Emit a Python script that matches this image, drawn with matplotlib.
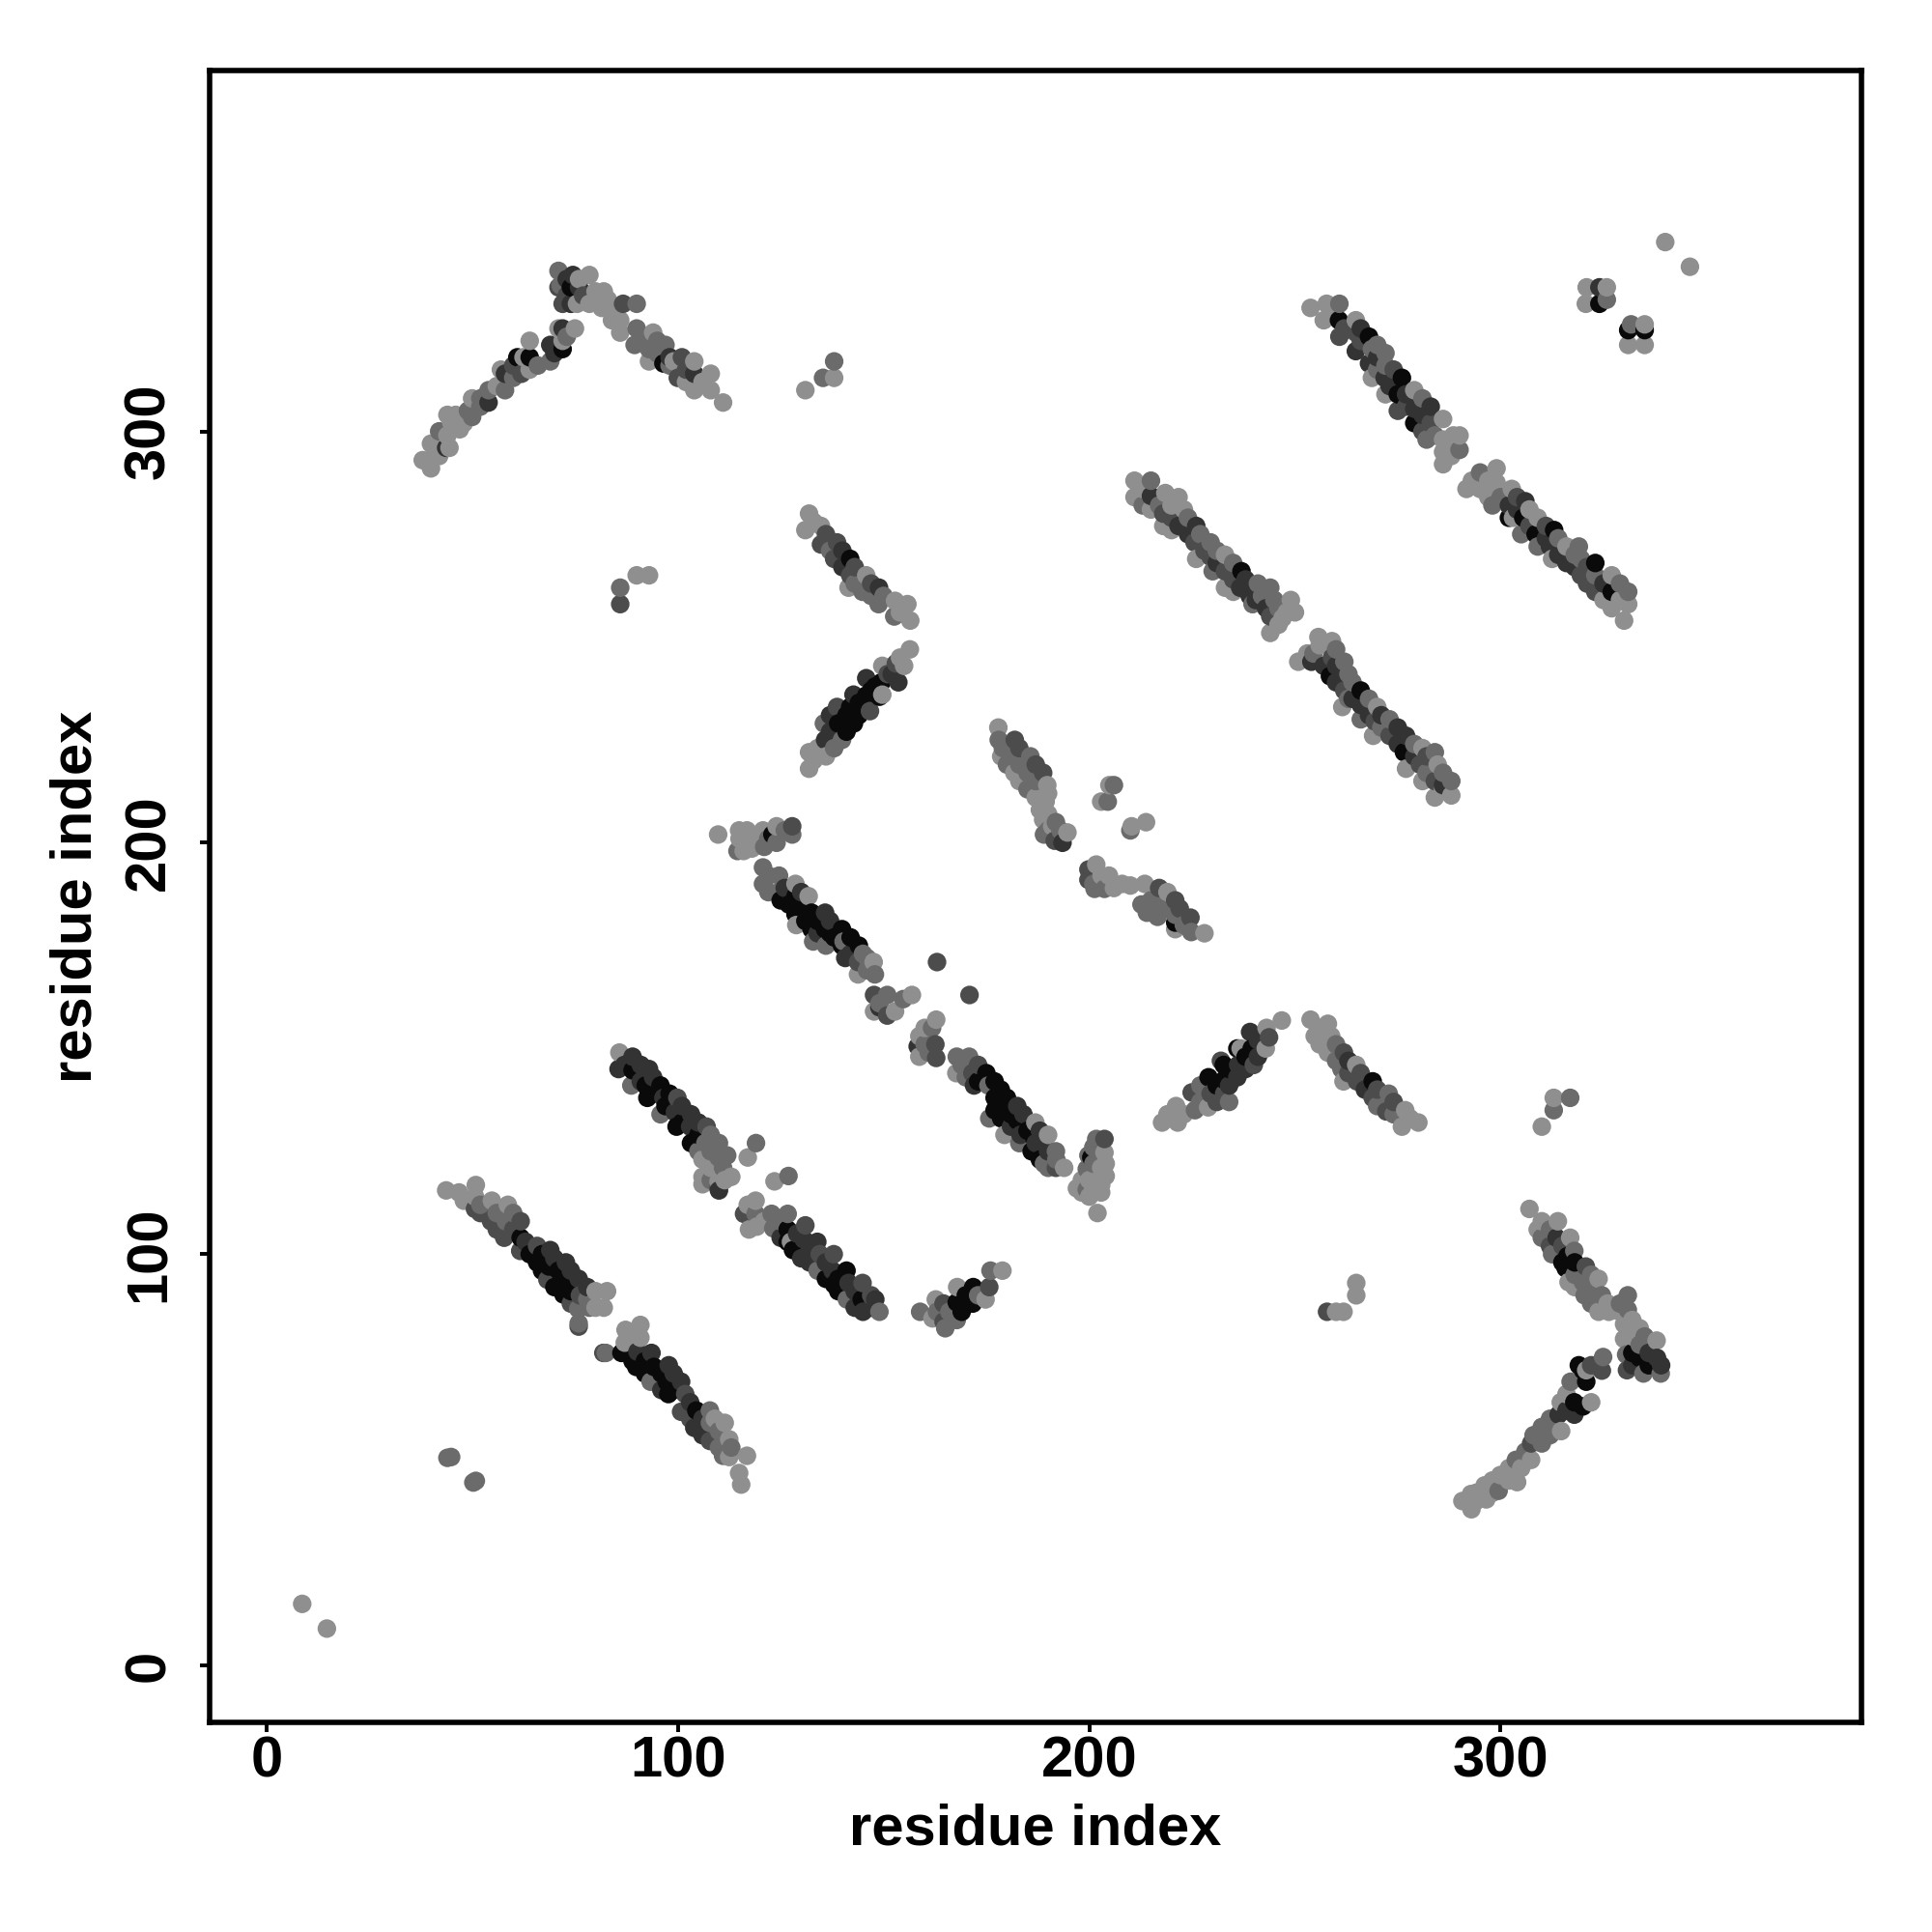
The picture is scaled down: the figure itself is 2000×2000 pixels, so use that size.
import matplotlib
matplotlib.use("Agg")
import matplotlib.pyplot as plt
import numpy as np

# shades
K, D, S, M, L = 0.04, 0.2, 0.3, 0.42, 0.56

# (residue i, residue j, shade), one list per streak of contacts
top_left_arm = [
    (38, 293, L), (40, 291, L), (40, 297, L), (42, 294, L), (42, 300, M), (43.7, 296, D), (44.5, 296, L),
    (44, 304, L), (47, 300.5, L), (46, 304, L), (50, 303.5, M), (50, 308, L), (54, 307, D), (54, 310, M),
    (58, 310, M), (57, 315, L), (58, 314, D), (61, 318, K), (62, 314, S), (64, 318, K), (64, 315, L),
    (62.5, 318, L), (64, 322, L), (69, 321, D), (69, 317, M), (72, 320, K), (72, 322, L), (72, 325, D),
    (71, 325, L), (75, 325, L),
]
top_left_peak = [
    (71, 339, M), (71, 335, S), (71.5, 335.5, M), (72, 331, S), (74.5, 338, D), (74, 335, K), (74, 331, D),
    (78.5, 338, L), (75.5, 331, L), (78.5, 331, L), (80, 334, L), (82, 334, L), (81.5, 330, L), (84, 330, L),
    (86.7, 331, S), (90, 331, M), (86, 327, L), (86, 324, L),
]
top_left_tail = [
    (90, 325, M), (89.5, 321, M), (94, 324, L), (93, 320, M), (97, 321, M), (93, 317, L), (96.5, 316.5, K),
    (101, 318, S), (99, 317, L), (104, 317, L), (100, 313, S), (104, 314, D), (108, 314, L), (104, 310, L),
    (108, 310, L), (111, 307, L),
]
small_top = [
    (86, 262, M), (86, 258, S), (90, 265, L), (93, 265, L), (131, 310, L), (135.3, 313, M), (138, 313, L),
    (138, 317, M),
]
upper_right_a = [
    (253.8, 330, L), (257.7, 331, L), (260.8, 331, M), (257, 327, L), (260.7, 327, K), (264.8, 327, L),
    (260.8, 323, S), (264.8, 324, S), (268, 323, K), (264.8, 319.5, D), (268.7, 320, M), (272, 319, M),
    (268, 316.5, D), (268.7, 313, L), (272, 316, M), (271.8, 313, D), (276, 313, K), (272, 309, L),
    (275, 309, K), (275, 305, S), (279, 310, L), (279, 305.5, D), (279, 302, K), (283, 306, D), (286, 303, L),
    (283, 302, S), (282, 298, M), (286, 298, L), (290, 299, L), (288.5, 299, L), (290, 295.5, M),
    (286, 295, L), (286, 292, L),
]
upper_right_b = [
    (291.7, 286, L), (295, 290, M), (295, 286, L), (299, 291, L), (299, 287.5, L), (298, 282, M),
    (302.7, 286, L), (302, 282, D), (306, 283, D), (302, 279, K), (303, 279, L), (305.5, 279, K), (305, 275, M),
    (309, 279, L), (308.5, 275, K), (313, 276, K), (309, 272, M), (312, 272, D), (312.5, 269, L), (316, 272, L),
    (316, 268, D), (319, 272, M), (319.5, 269, M), (319.5, 265, S), (323, 268, K), (323, 265, M),
    (323, 261, S), (327, 265, L), (327, 261, K), (331, 261, M), (327, 257, L), (331, 258, L), (330, 254, L),
]
corner_top_right = [
    (320.9, 335, L), (324, 335, D), (325.8, 335, L), (320.7, 331, L), (324, 331, K), (325.8, 332, M),
    (331, 324.6, K), (331.7, 326, M), (335, 324.6, K), (335, 326, L), (331, 321, L), (335, 321, L),
    (340, 346, L), (346, 340, L),
]
middle_upper_a = [
    (211, 288, L), (215, 288, M), (211, 284, L), (215, 284.3, D), (215, 281, L), (218.5, 285, L), (221.7, 284, L),
    (218, 280, S), (218, 277, L), (221.7, 277, D), (223, 281, L), (226, 277, D), (225.6, 273, S), (229.5, 273, M),
    (226, 269, L), (229.5, 269.5, S), (230, 266, M), (233, 270, L), (233, 266, S), (233, 262, L), (237, 266, K),
    (236.7, 262, D), (241, 263, M), (244, 262, M), (240.5, 259, D), (239.7, 258, M), (245, 259, M),
    (249, 259, L), (244, 255, S), (247, 254.6, L), (250, 256, L), (244, 251, L),
]
middle_upper_b = [
    (250.8, 244, L), (255.7, 250, L), (259, 249, L), (254.5, 246, M), (254, 244, D), (259, 245, S), (262, 244, M),
    (258.5, 240.5, K), (263, 241, M), (262, 237, S), (266, 237, K), (261.5, 233, L), (266, 233.5, D),
    (270, 233, L), (266, 230, M), (269.4, 229.5, S), (273, 230, M), (269, 226, L), (273, 226, S),
    (277, 226, D), (276.5, 222, K), (277, 218, L), (281, 223, L), (280.4, 219, S), (284, 222, M),
    (284.7, 219, L), (281, 215, L), (284, 215, S), (288, 215, M), (284, 211, L), (288, 211.5, L),
]
chevron_up = [
    (131.9, 280, L), (131, 276, L), (134.8, 277, L), (134.8, 272.5, S), (138.7, 273, S), (138, 269, S),
    (141.9, 269, K), (141.9, 265, S), (145.8, 265, L), (141.5, 262, L), (144.9, 261, M), (148.9, 262, D),
    (148.8, 258, M), (152.8, 258.8, L), (155.8, 258, L), (152.6, 255, M), (156.5, 254, L),
]
chevron_down = [
    (156.4, 247, L), (155, 243, L), (153, 243.6, S), (149.7, 243, L), (153.6, 239, D), (149.5, 239, K),
    (145.8, 240, D), (149.7, 236, L), (149, 235.5, K), (145.8, 235.8, K), (142.7, 236, D), (146.7, 232, S),
    (138.7, 233, S), (141.9, 233, K), (142.8, 229, K), (139, 229, K), (135.5, 229, M), (139.9, 225, M),
    (135.8, 225, D), (136, 221, L), (131.9, 222, L), (131.9, 218, L),
]
centre_upper = [
    (177.9, 228, L), (178, 225, M), (181.9, 225, S), (178.6, 221, L), (181.8, 221, M), (185.7, 221, M),
    (181.8, 217, L), (185, 217, M), (188.8, 217, S), (185, 213, M), (189.8, 214, L), (189.4, 210, L),
    (188.8, 205.6, L), (191.9, 205, M), (189, 202, M), (191.6, 200.5, S), (193.5, 200, D), (194.7, 202.5, L),
    (204.9, 214, L), (206, 214, M), (202.9, 210, L), (204.5, 210, M), (210.3, 204, L), (210, 203, M),
    (213.8, 205, L),
]
centre_left = [
    (109.8, 202, L), (114.9, 203, L), (116.8, 203, L), (114.5, 198, M), (116, 198, L), (118, 198.6, L),
    (120.7, 203, L), (119, 200.6, L), (124, 204, L), (123, 202, K), (124, 200, M), (127.8, 204, S), (127.8, 202, M),
]
centre_right = [
    (199.8, 193.5, S), (201.7, 194.7, L), (199.8, 191, S), (201.3, 188.8, M), (204.8, 192, L), (206, 189, L),
    (203.7, 188.8, M), (210, 189.6, L), (213.5, 190, L), (212.7, 185, M), (217, 189, S), (217, 186, M),
    (216.6, 182, M), (220.9, 186, S), (220.9, 182.5, M), (220.9, 180.6, K), (220.9, 179, L), (224.6, 181.8, S),
    (224.8, 178.3, M), (228, 178, L),
]
centre_long_a = [
    (120.7, 194, M), (120.7, 190, M), (124.6, 192, M), (125, 186, K), (124.5, 188, M), (128.6, 190, L),
    (128.6, 187, K), (131.8, 187, L), (128.6, 182.6, K), (132.5, 183, K), (135.8, 183, D), (128.8, 180, L),
    (132.5, 179, K), (135.8, 179, K), (132.9, 176, M), (139.9, 179, K), (140.3, 176, M), (139.9, 175, K),
    (144, 175, K), (140.7, 172, D), (143.8, 171, S), (147.6, 171, L), (143.8, 168, L), (147.9, 168, M),
    (147.7, 163, S), (150.9, 163, M), (147.7, 159, L), (150.9, 158, S), (152.8, 159, L), (154.8, 162, M),
    (156.9, 163, L), (163, 171, S), (170.9, 163, S),
]
centre_long_b = [
    (162.8, 157, L), (161.8, 155, M), (158.7, 153, L), (158.3, 150.5, D), (162.6, 151, S), (158.7, 148, L),
    (162.8, 147.7, S), (167.8, 148, M), (170.8, 148, M), (167.7, 144, L), (171.6, 144, S), (175, 144, K),
    (172, 141, D), (175.5, 141, M), (178.5, 140, K), (178.6, 136, K), (182.5, 136, D), (175.7, 133, M),
    (178.6, 133, K), (182.5, 132.5, K), (179.4, 129, L), (183.3, 129, D), (186.9, 132, L), (186.5, 128.6, K),
    (190, 129, L), (186, 125, K), (190, 125, D), (191.9, 125, M), (190, 121, M), (191.9, 121, S), (193.9, 121, L),
]
centre_stack = [
    (203.7, 128, S), (201.7, 128, M), (203.7, 124.7, L), (199.8, 124, M), (200.5, 123.5, K), (202.9, 121, L),
    (199.4, 120.7, M), (198.2, 118, L), (202.9, 116.8, L), (199.4, 115.7, M), (198.2, 115, L), (202.9, 115, L),
    (200, 114, L), (202, 110, L),
]
low_right_up = [
    (217.7, 132, L), (221.5, 132, L), (221.1, 136, L), (225.7, 135, M), (224.9, 139.3, S), (229.5, 139, S),
    (228.9, 135.7, L), (232.8, 139, S), (229, 143, K), (232.8, 142.4, K), (236, 143, D), (232, 147, S),
    (232.7, 146, K), (236.2, 146, D), (240, 146, S), (236, 150, K), (236.8, 150, L), (239.5, 150, K),
    (242.9, 150, L), (239.1, 154, D), (243.7, 152.7, S), (243.1, 155, L), (246.8, 156.8, L),
]
low_right_down = [
    (253.8, 157, L), (258, 156, L), (254.8, 153, L), (258.8, 153, L), (258, 149, L), (261.9, 149, S),
    (261.3, 145, M), (264.9, 146, L), (261.8, 142, L), (265.1, 142, S), (268.9, 142, K), (268.9, 138, S),
    (272.8, 139, M), (272.2, 134.7, S), (276.8, 135, L), (276, 131, L), (280, 132, L),
]
small_middle = [
    (312.9, 138, L), (316.9, 138, M), (312.9, 135, M), (310, 131, L), (264.9, 93, L), (264.9, 90, L),
    (257.8, 86, S), (261.8, 86, L), (260, 86, L),
]
right_stem = [
    (307, 111, L), (310, 108, L), (313.9, 108, L), (310, 104, M), (313.6, 104, D), (316.9, 104, L),
    (312.5, 100, M), (317.9, 100.8, M), (316.2, 99.5, K), (315.8, 96.6, K), (320.7, 97, S), (316.5, 93.2, L),
    (320, 93.2, M), (323.8, 94, L), (320.4, 90, M), (324.6, 90, M), (323.8, 86, L), (326.3, 86, L),
    (330.9, 90, M), (330.9, 86.5, M), (330, 83, L), (333.8, 82, L), (330, 79.4, L), (333.8, 78, M),
    (337.9, 79, L), (330.5, 75.6, M), (333.8, 74.8, K), (338, 74.8, D), (330.7, 71.8, S), (334.7, 71, M),
    (338.9, 71, M),
]
right_arm = [
    (324.9, 75, M), (324.6, 71.7, S), (320.8, 71.8, L), (320, 71.8, K), (317, 69, M), (320.8, 69, K),
    (322, 64, L), (317.9, 64, K), (314.6, 64, L), (317.9, 61, D), (314.1, 61, D), (314.7, 57, L), (310, 58, M),
    (310, 54, M), (307.4, 54, S), (307.4, 50, L), (303.7, 50, M), (304, 44.6, L), (299.9, 46.3, L),
    (299.5, 42.5, M), (296.1, 43.8, L), (296.5, 40.4, L), (292.8, 41.7, L), (290.7, 40, L), (292.9, 38, L),
]
lower_long_a = [
    (85.8, 149, L), (89, 148, D), (85.6, 145, D), (89, 144.7, K), (93, 145, D), (88.7, 141, M), (92.2, 141, K),
    (95.8, 141, K), (92.6, 138, K), (96.5, 138, D), (99.9, 138, S), (95.8, 134, M), (99.3, 134.5, D),
    (103.2, 134, D), (99.7, 131, K), (103, 131, D), (107, 131, S), (103.2, 127, K), (106.7, 127, M),
    (110, 127, M), (106, 123, L), (109.9, 123.5, M), (106, 118.8, L), (106, 117, L), (109.9, 116, S),
    (109.9, 117.7, L), (111.4, 118, L), (113, 118.8, L), (119, 127, M), (117, 123.5, L), (126.9, 119, M),
    (123.5, 117.7, L),
]
lower_long_b = [
    (118.9, 113, L), (116.1, 109.8, S), (118.9, 109.8, M), (117.3, 106, L), (119.2, 106.7, L), (122.8, 109.8, M),
    (123.2, 106.3, M), (126.7, 109.8, M), (126.7, 106, K), (131, 107, S), (126.7, 103, K), (127.5, 103, L),
    (130.6, 103.6, D), (133.9, 103, D), (130, 99, D), (134.5, 100, S), (137.9, 100, S), (134, 96, M),
    (137.6, 96, D), (141, 96, K), (138, 92.6, K), (141.5, 93, D), (144.9, 93, S), (141.1, 89, M), (144.7, 89, K),
    (148, 89, D), (145, 86, D), (149, 86, M),
]
lower_small = [
    (158.9, 86, M), (162.7, 89, L), (161.9, 84.4, L), (164.6, 88, S), (165, 82, M), (164.6, 83.6, S),
    (167.8, 84, M), (167.8, 88.3, K), (171.7, 88, K), (167.9, 92, L), (171.8, 92, K), (174.8, 89, L),
    (175.7, 92, S), (176, 96, M), (178.9, 96, L),
]
bottom_long_a = [
    (43.7, 115.5, L), (46.8, 115, L), (50.9, 116.8, L), (50.7, 114, L), (50.7, 111, S), (54.8, 113, L),
    (54.6, 108, S), (58.7, 112, L), (58.2, 108, M), (57.8, 104, S), (61.8, 108, S), (61.8, 104, K),
    (61.7, 100.8, S), (65.8, 102, S), (65.8, 98, K), (69, 101, D), (68.7, 97, K), (72.8, 98, D), (68.3, 93.8, S),
    (72.2, 93.8, K), (75.9, 94, D), (72.2, 90.2, K), (76.2, 90, S), (80, 91, L), (82.8, 91, L), (75.8, 86.7, M),
    (80, 87, L), (82, 87, L), (78.5, 87, M), (75.9, 82.4, S), (75.9, 83.2, M),
]
bottom_long_b = [
    (81.9, 76, S), (82.5, 76, M), (87.3, 81.6, L), (87.1, 78.5, L), (90.9, 82.8, L), (90.9, 79.7, L),
    (86.3, 76, K), (90.2, 76.3, D), (93.6, 76, D), (89.9, 72.6, K), (94.2, 72.6, K), (97.8, 73, D), (93.4, 69, M),
    (97.3, 69, K), (100.8, 69, D), (97.7, 66, K), (101.8, 66, S), (100.8, 61.7, S), (104.5, 62, K),
    (107.8, 62, M), (104, 57.8, D), (107.8, 59, M), (111.4, 59, L), (107.8, 54.6, S), (112.5, 55, L),
    (111, 51, M), (112.5, 50.7, L), (116.8, 51, L), (114.9, 46.8, L), (115.4, 44, L),
]
bottom_corner = [
    (44, 50.5, M), (44.9, 50.7, M), (50.3, 44.5, M), (50.9, 44.9, M), (8.7, 15, L), (14.7, 9, L),
]

# points half hidden inside the streaks, read less exactly
hidden_top = [
    (41, 295, L), (44, 299, L), (46, 301, L), (48, 302, L), (45, 302, L), (49, 305, M), (52, 306, M), (52, 308, M),
    (56, 311, L), (60, 313, M), (60, 316, S), (66, 316, M), (70, 319, D), (73, 323, M),
    (73, 337, D), (73, 333, S), (76, 335, D), (77, 333, S), (76, 337, L), (84, 327, L), (83, 332, L),
    (91, 323, M), (95, 322, M), (95, 319, M), (98, 318, D), (98, 316, M), (102, 315, S), (106, 312, L), (102, 312, L),
    (259, 329, L), (262, 325, S), (266, 325, D), (266, 322, S), (270, 321, M), (270, 318, D), (270, 315, M),
    (274, 315, S), (273, 311, D), (277, 309, D), (277, 306, S), (281, 308, M), (281, 304, D), (281, 300, S),
    (284, 299, M), (288, 297, L), (288, 294, L),
    (293, 288, L), (297, 288, L), (297, 284, L), (300, 284, M), (304, 284, S), (304, 281, D), (307, 277, S),
    (307, 281, L), (311, 277, S), (311, 274, D), (314, 274, M), (314, 270, D), (318, 270, M), (318, 267, D),
    (321, 267, S), (321, 263, S), (325, 263, D), (325, 259, L), (329, 259, L), (329, 263, M),
]
hidden_middle = [
    (213, 286, L), (213, 282, M), (217, 282, M), (220, 282, L), (220, 279, S), (220, 276, L), (224, 279, M),
    (224, 275, D), (227, 275, M), (228, 271, S), (231, 271, M), (231, 268, D), (235, 264, S), (235, 268, M),
    (235, 261, L), (238, 264, D), (239, 260, D), (242, 260, M), (243, 257, D), (246, 257, M), (248, 256, L), (246, 253, L),
    (253, 246, L), (256, 248, L), (257, 243, D), (260, 243, D), (260, 247, M), (260, 239, D), (264, 239, M),
    (264, 235, D), (263, 235, M), (268, 235, M), (268, 231, D), (271, 231, D), (271, 228, M), (275, 228, D),
    (275, 224, D), (279, 224, M), (279, 221, D), (282, 221, S), (282, 217, M), (286, 217, M), (286, 213, L), (286, 214, D),
    (133, 278, L), (136, 275, S), (137, 271, M), (140, 271, D), (140, 267, D), (143, 267, S), (143, 263, M),
    (147, 263, S), (147, 260, M), (150, 260, M), (154, 256, L),
    (154, 245, L), (151, 241, S), (152, 241, D), (148, 238, K), (147, 237, K), (144, 234, K), (144, 231, K),
    (141, 231, K), (137, 231, D), (137, 227, D), (141, 227, K), (134, 223, L), (138, 223, M), (133, 220, L),
    (179, 223, M), (180, 223, M), (183, 223, S), (183, 219, M), (180, 219, M), (187, 219, S), (183, 215, L),
    (187, 215, M), (187, 211, L), (190, 212, L), (188, 208, L), (190, 207, L), (190, 203, M), (193, 203, M), (191, 204, L),
    (115, 201, L), (117, 200, L), (121, 199, M), (122, 201, M), (126, 203, M),
    (201, 190, M), (203, 192, L), (208, 190, L), (215, 186, M), (219, 184, M), (219, 188, L), (214, 183, M),
    (222, 184, S), (223, 180, M),
    (122, 192, M), (122, 188, M), (126, 189, D), (127, 185, K), (130, 185, K), (130, 188, D), (131, 181, K),
    (134, 181, K), (134, 178, D), (137, 181, D), (137, 178, K), (136, 175, M), (138, 177, K), (142, 177, K),
    (142, 173, D), (145, 173, M), (146, 169, M), (146, 172, M), (149, 161, M), (149, 160, D),
    (160, 151, M), (160, 155, L), (161, 149, M), (169, 146, M), (173, 146, S), (170, 143, M), (173, 142, K),
    (177, 142, K), (177, 138, K), (180, 138, K), (177, 135, K), (181, 134, K), (184, 134, D), (181, 131, D),
    (185, 130, K), (188, 130, D), (187, 127, D), (183, 127, M), (188, 123, K), (192, 123, M), (189, 122, M),
    (201, 126, M), (201, 122, M), (200, 118, L), (201, 116, L), (204, 119, L), (204, 122, L), (197, 116, L),
    (219, 134, L), (223, 134, L), (227, 137, M), (227, 141, M), (231, 141, K), (231, 137, S), (234, 141, D),
    (234, 137, M), (234, 145, K), (238, 145, D), (238, 148, K), (241, 148, D), (241, 152, D),
    (256, 155, L), (256, 151, L), (260, 151, M), (260, 147, M), (263, 147, D), (263, 144, S), (266, 144, S),
    (267, 140, D), (270, 140, S), (270, 136, M), (274, 137, S), (274, 134, M), (278, 133, L),
]
hidden_lower = [
    (309, 106, L), (312, 106, M), (312, 102, S), (315, 102, S), (315, 98, K), (318, 98, K), (318, 95, M),
    (322, 95, M), (322, 92, M), (318, 92, L), (322, 88, M), (326, 88, L), (329, 86, L), (329, 88, M), (332, 84, L),
    (332, 80, L), (335, 80, M), (332, 76, K), (336, 76, D), (336, 73, K), (332, 73, D), (339, 73, D),
    (319, 73, K), (322, 73, S), (316, 66, L), (316, 62, D), (320, 63, K), (312, 60, M), (312, 56, M), (308, 56, M),
    (306, 52, M), (305, 48, L), (302, 48, L), (302, 45, L), (298, 45, L), (298, 42, L), (294, 42, L), (294, 40, L),
    (87, 146, D), (91, 146, D), (91, 142, D), (94, 143, D), (94, 139, K), (98, 139, K), (97, 136, K), (101, 136, D),
    (101, 132, K), (105, 132, D), (105, 129, K), (108, 129, M), (108, 125, M), (105, 125, M), (108, 121, L),
    (111, 121, M), (108, 118, M), (112, 124, M), (110, 115.5, D),
    (117, 112, L), (121, 108, L), (125, 108, M), (125, 104, D), (129, 105, D), (128, 101, K), (132, 102, D),
    (132, 98, D), (136, 98, D), (136, 94, K), (139, 94, K), (139, 91, K), (143, 91, D), (143, 87, D), (147, 87, D), (147, 90, S),
    (48, 113, L), (52, 112, M), (52, 110, S), (56, 110, M), (56, 106, S), (60, 106, S), (60, 110, M), (63, 103, D),
    (64, 100, K), (67, 100, K), (67, 96, K), (71, 96, K), (70, 99, D), (74, 96, D), (70, 92, K), (74, 92, K),
    (74, 88, S), (78, 89, M), (74, 91, K), (78, 92, D),
    (89, 74, K), (92, 74, K), (92, 71, K), (96, 71, K), (96, 67, D), (99, 67, K), (99, 71, D), (103, 64, D),
    (103, 60, S), (106, 60, D), (106, 56, D), (110, 57, M), (110, 53, M), (113, 53, M), (109, 60, L),
    (163, 86, M), (166, 86, M), (170, 90, K), (173, 90, M), (169, 86, K),
]

streaks = [
    top_left_arm, top_left_peak, top_left_tail, small_top, upper_right_a, upper_right_b, corner_top_right,
    middle_upper_a, middle_upper_b, chevron_up, chevron_down, centre_upper, centre_left, centre_right,
    centre_long_a, centre_long_b, centre_stack, low_right_up, low_right_down, small_middle, right_stem,
    right_arm, lower_long_a, lower_long_b, lower_small, bottom_long_a, bottom_long_b, bottom_corner,
    hidden_top, hidden_middle, hidden_lower,
]
ticks = [0, 100, 200, 300]

pts = np.array([p for s in streaks for p in s])
# later residues were drawn over earlier ones
pts = pts[np.lexsort((pts[:, 1], pts[:, 0]))]

plt.rcParams['font.family'] = ['Liberation Sans', 'DejaVu Sans']
fig = plt.figure(figsize=(10, 10), dpi=200)
ax = fig.add_axes([0.1085, 0.1085, 0.855, 0.855])

ax.scatter(pts[:, 0], pts[:, 1], c=pts[:, 2], cmap='gray', vmin=0, vmax=1, s=48, linewidths=0)

ax.set_xlim(-13.8, 387.7)
ax.set_ylim(-13.8, 387.7)
ax.set_xticks(ticks)
ax.set_yticks(ticks)
ax.tick_params(axis='x', length=3.6, width=1.4, labelsize=21.5, pad=1.4)
ax.tick_params(axis='y', length=3.6, width=1.4, labelsize=21.5, pad=8.8)
for lab in ax.get_xticklabels():
    lab.set_fontweight('bold')
for lab in ax.get_yticklabels():
    lab.set_fontweight('bold')
    lab.set_rotation(90)
    lab.set_va('center')
for sp in ax.spines.values():
    sp.set_linewidth(2.0)

ax.set_xlabel('residue index', fontsize=21.5, fontweight='bold', labelpad=5.2)
ax.set_ylabel('residue index', fontsize=21.5, fontweight='bold', labelpad=7.4)

fig.savefig('out.png', dpi=200)
